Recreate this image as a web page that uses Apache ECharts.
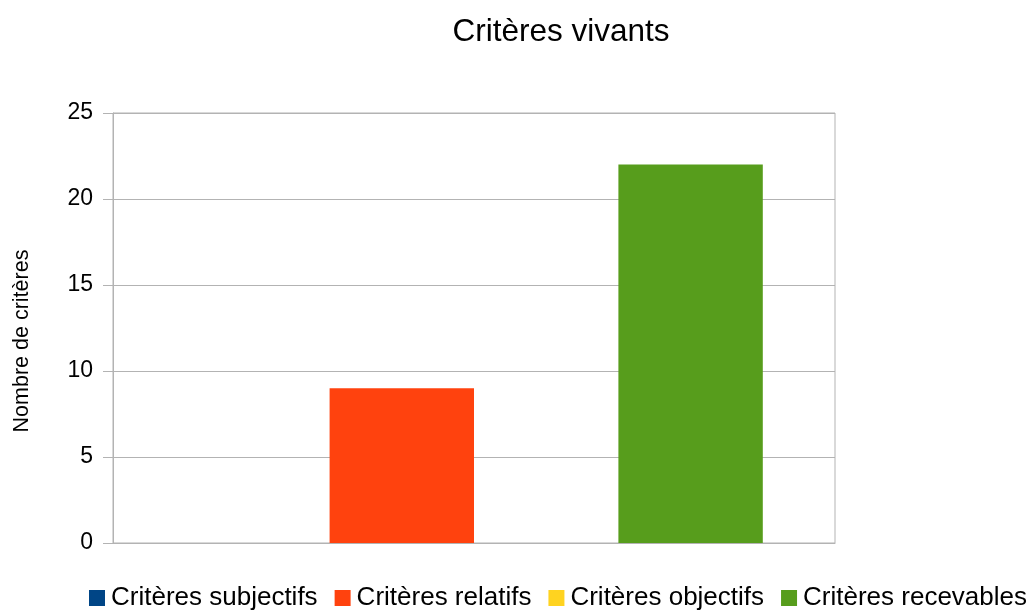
<!DOCTYPE html>
<html>
<head>
<meta charset="utf-8">
<script src="https://cdn.jsdelivr.net/npm/echarts@6/dist/echarts.min.js"></script>
<style>
html,body{margin:0;padding:0;background:#fff;}
#chart{width:1031px;height:611px;}
</style>
</head>
<body>
<div id="chart"></div>
<script>
var titleText = 'Critères vivants';
var yAxisName = 'Nombre de critères';
var categories = ['Critères vivants'];
var seriesNames = ['Critères subjectifs', 'Critères relatifs', 'Critères objectifs', 'Critères recevables'];
var subjectifs = [0];
var relatifs = [9];
var objectifs = [0];
var recevables = [22];
var seriesColors = ['#004586', '#ff420e', '#ffd320', '#579d1c'];
var yTicks = [0, 5, 10, 15, 20, 25];

var seriesData = [subjectifs, relatifs, objectifs, recevables];
var FONT = '"Liberation Sans", Arial, sans-serif';

var chart = echarts.init(document.getElementById('chart'), null, {renderer: 'canvas'});
chart.setOption({
  animation: false,
  backgroundColor: '#ffffff',
  color: seriesColors,
  title: {
    text: titleText,
    left: 556,
    textAlign: 'center',
    top: 11,
    textStyle: {fontFamily: FONT, fontSize: 31.5, fontWeight: 'normal', color: '#000'}
  },
  legend: {
    left: 89,
    top: 585,
    width: 1000,
    padding: 0,
    icon: 'rect',
    itemWidth: 16,
    itemHeight: 16,
    itemGap: 17,
    textStyle: {fontFamily: FONT, fontSize: 26, color: '#000', padding: [0, 0, 0, 1]},
    data: seriesNames
  },
  grid: {
    left: 113, right: 196, top: 113, bottom: 68,
    show: true, borderColor: '#b3b3b3', borderWidth: 1, containLabel: false
  },
  xAxis: {
    type: 'category',
    data: categories,
    axisLine: {show: true, lineStyle: {color: '#b3b3b3'}},
    axisTick: {show: false},
    axisLabel: {show: false},
    splitLine: {show: false}
  },
  yAxis: {
    type: 'value',
    min: yTicks[0],
    max: yTicks[yTicks.length - 1],
    interval: 5,
    name: yAxisName,
    nameLocation: 'middle',
    nameGap: 80,
    nameTextStyle: {fontFamily: FONT, fontSize: 21.5, color: '#000', padding: [0, 26, 0, 0]},
    axisLine: {show: true, lineStyle: {color: '#b3b3b3'}},
    axisTick: {show: true, inside: false, length: 10, lineStyle: {color: '#b3b3b3'}},
    axisLabel: {margin: 20, fontFamily: FONT, fontSize: 23, color: '#000', padding: [4, 0, 0, 0]},
    splitLine: {show: true, lineStyle: {color: '#b3b3b3', width: 1}}
  },
  series: seriesNames.map(function (n, i) {
    return {
      name: n,
      type: 'bar',
      data: seriesData[i],
      barGap: '0%',
      barCategoryGap: '20%',
      itemStyle: {color: seriesColors[i]}
    };
  })
});
</script>
</body>
</html>
